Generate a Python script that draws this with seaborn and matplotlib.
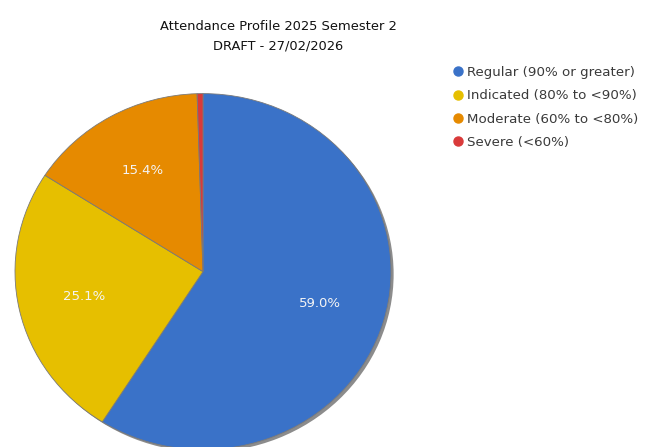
import matplotlib
matplotlib.use("Agg")
import matplotlib.pyplot as plt
import seaborn as sns
from matplotlib.lines import Line2D

categories = ["Regular (90% or greater)", "Indicated (80% to <90%)",
              "Moderate (60% to <80%)", "Severe (<60%)"]
values = [59.0, 25.1, 15.4, 0.5]
colors = ["#3a72c8", "#e6bf00", "#e68a00", "#d93a3a"]
title_lines = ["Attendance Profile 2025 Semester 2", "DRAFT - 27/02/2026"]

sns.set_theme(style="white")
plt.rcParams["font.family"] = ["DejaVu Sans"]

fig = plt.figure(figsize=(6.5, 4.47), dpi=100)
fig.patch.set_facecolor("white")

W, H = 650, 447
cx, cy, rx, ry = 203, 271.6, 188, 178
ax = fig.add_axes([(cx - rx) / W, (H - cy - ry) / H, 2 * rx / W, 2 * ry / H])

# soft drop shadow behind the pie
ax.pie([1], colors=["#8c8c8c"], center=(0.014, -0.014), startangle=90,
       wedgeprops=dict(linewidth=0))

def fmt(p):
    return f"{p:.1f}%" if p >= 5 else ""

wedges, texts, autotexts = ax.pie(
    values, colors=colors, startangle=90, counterclock=False,
    autopct=fmt, pctdistance=0.65,
    wedgeprops=dict(edgecolor="#7a7a7a", linewidth=0.6),
    textprops=dict(color="#f4f4f4", fontsize=9.5))
ax.set_aspect("auto")
ax.set_xlim(-1.0, 1.0)
ax.set_ylim(-1.0, 1.0)
ax.axis("off")

fig.text(278 / W, 1 - 26 / H, title_lines[0], ha="center", va="center",
         fontsize=9.4, color="#111111")
fig.text(278 / W, 1 - 46 / H, title_lines[1], ha="center", va="center",
         fontsize=9.4, color="#111111")

handles = [Line2D([0], [0], marker="o", linestyle="none", markersize=6.5,
                  markerfacecolor=c, markeredgecolor=c) for c in colors]
leg = fig.legend(handles, categories, loc="upper left",
                 bbox_to_anchor=(454 / W, 1 - 66 / H), frameon=False,
                 fontsize=9.6, handlelength=0.6, handletextpad=0.4,
                 labelspacing=0.77, borderaxespad=0, borderpad=0)
for t in leg.get_texts():
    t.set_color("#3a3a3a")

fig.savefig("out.png", dpi=100, facecolor="white")
